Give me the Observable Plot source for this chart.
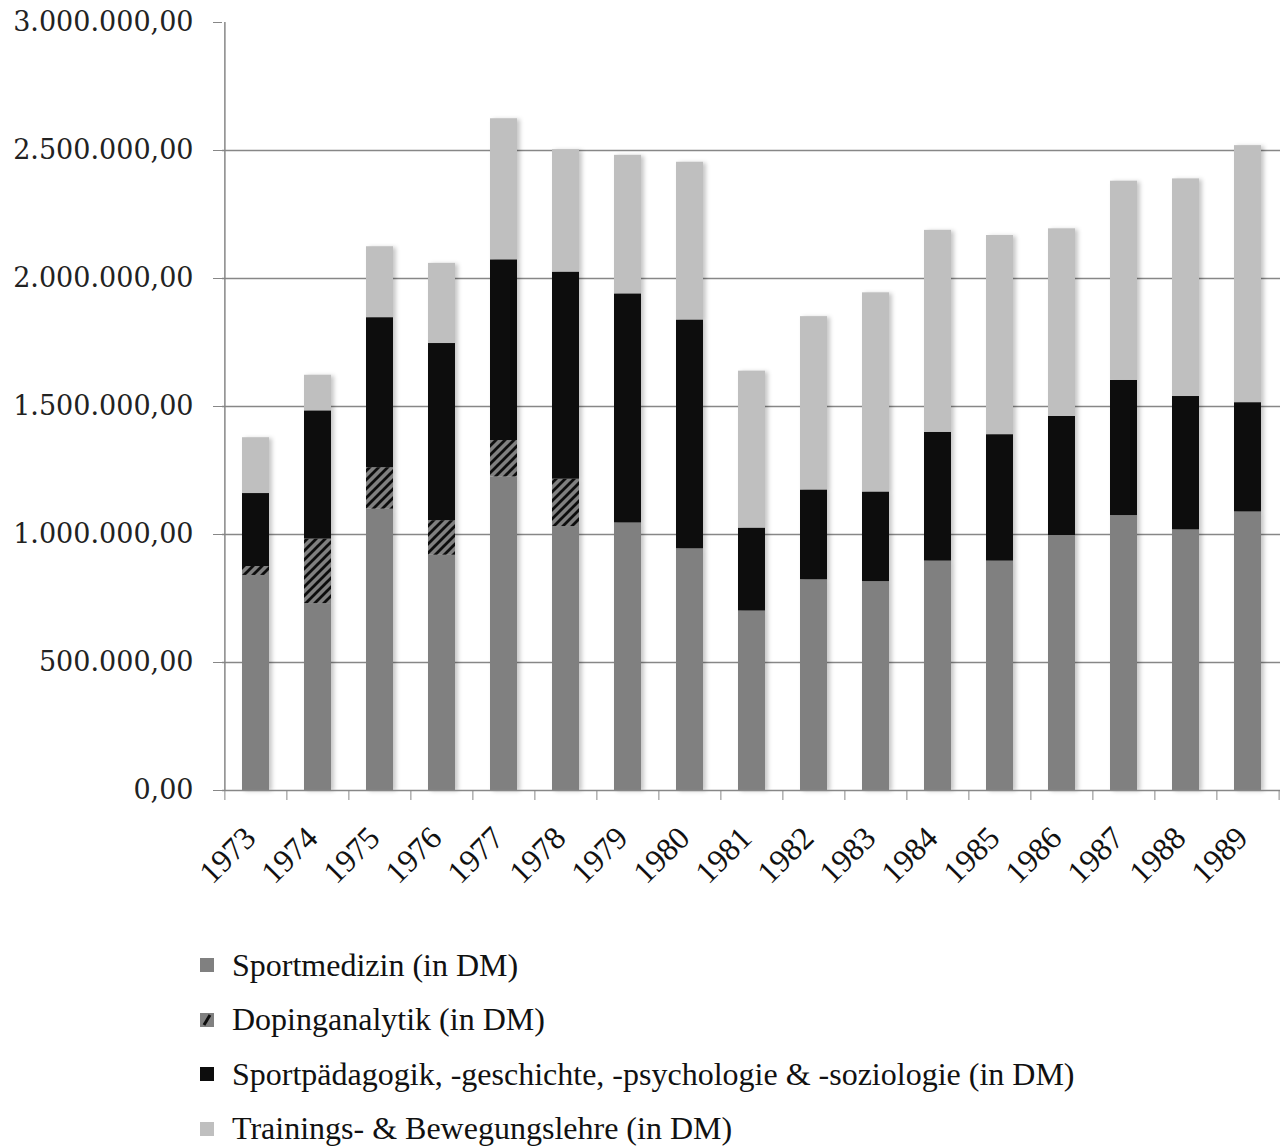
<!DOCTYPE html>
<html>
<head>
<meta charset="utf-8">
<script src="https://cdn.jsdelivr.net/npm/d3@7"></script>
<script src="https://cdn.jsdelivr.net/npm/@observablehq/plot@0.6"></script>
<style>
  body { margin: 0; background: #fff; }
  #chart svg { display: block; }
  #legend { margin-top: 33px; padding-left: 200px; font-family: "Liberation Serif", serif; font-size: 32px; color: #111; }
  .row { height: 54.5px; display: flex; align-items: center; }
  .row svg { margin-right: 18px; flex: none; }
</style>
</head>
<body>
<div id="chart"></div>
<div id="legend"></div>
<script>
const years = [1973,1974,1975,1976,1977,1978,1979,1980,1981,1982,1983,1984,1985,1986,1987,1988,1989];
const seriesNames = [
  "Sportmedizin (in DM)",
  "Dopinganalytik (in DM)",
  "Sportpädagogik, -geschichte, -psychologie & -soziologie (in DM)",
  "Trainings- & Bewegungslehre (in DM)"
];
const sportmedizin    = [840000, 730000, 1099000, 919000, 1225000, 1031000, 1045000, 944000, 701000, 823000, 816000, 896000, 896000, 996000, 1074000, 1018000, 1088000];
const dopinganalytik  = [35000, 252000, 162000, 135000, 142000, 185000, 0, 0, 0, 0, 0, 0, 0, 0, 0, 0, 0];
const sportpaedagogik = [285000, 501000, 586000, 692000, 706000, 809000, 895000, 894000, 324000, 351000, 350000, 503000, 494000, 465000, 528000, 521000, 427000];
const training        = [218000, 139000, 277000, 313000, 551000, 478000, 541000, 616000, 613000, 677000, 778000, 789000, 778000, 733000, 778000, 850000, 1004000];
const yTicks = [0, 500000, 1000000, 1500000, 2000000, 2500000, 3000000];
const gridTicks = [500000, 1000000, 1500000, 2000000, 2500000];

const seriesValues = [sportmedizin, dopinganalytik, sportpaedagogik, training];
const fills = ["#808080", "url(#hatch)", "#0d0d0d", "#bfbfbf"];

const rows = [];
years.forEach((yr, i) => {
  seriesNames.forEach((s, k) => {
    if (seriesValues[k][i] > 0) rows.push({year: yr, series: s, value: seriesValues[k][i]});
  });
});

const fmt = d3.formatLocale({decimal: ",", thousands: ".", grouping: [3], currency: ["", ""]}).format(",.2f");

const W = 1287, ML = 222, MR = 7;
const step = (W - ML - MR) / years.length;
const axisColor = "#878787";

const chart = Plot.plot({
  width: W,
  height: 905,
  marginLeft: ML,
  marginRight: MR,
  marginTop: 22,
  marginBottom: 115,
  style: {background: "#fff"},
  x: {type: "band", domain: years, paddingInner: 0.566, paddingOuter: 0.283, axis: null},
  y: {domain: [0, 3000000], axis: null},
  color: {domain: seriesNames, range: fills, legend: false},
  marks: [
    Plot.gridY(gridTicks, {stroke: axisColor, strokeOpacity: 1, strokeWidth: 1.3}),
    Plot.barY(rows, {x: "year", y: "value", fill: "series"}),
    Plot.ruleY([0], {stroke: axisColor, strokeWidth: 1.5}),
    Plot.ruleX([years[0]], {dx: -step / 2, stroke: axisColor, strokeWidth: 1.5}),
    Plot.axisX(years, {tickSize: 10, tickFormat: () => "", label: null, dx: -step / 2, stroke: axisColor}),
    Plot.axisX([years[years.length - 1]], {tickSize: 10, tickFormat: () => "", label: null, dx: step / 2, stroke: axisColor}),
    Plot.text(years, {x: d => d, text: d => String(d), frameAnchor: "bottom", rotate: -45, dx: -21, dy: 72,
      fontSize: 32, fontFamily: "Liberation Serif", fill: "#111"}),
    Plot.axisY(yTicks, {tickSize: 9, tickPadding: 20, tickFormat: fmt, label: null, stroke: axisColor, fill: "#222",
      fontSize: 27, fontFamily: "DejaVu Serif"})
  ]
});

// hatch pattern definition
const ns = "http://www.w3.org/2000/svg";
const defs = document.createElementNS(ns, "defs");
defs.innerHTML = `<pattern id="hatch" patternUnits="userSpaceOnUse" width="9" height="9">
  <rect width="9" height="9" fill="#808080"/>
  <path d="M-2,2 l4,-4 M0,9 l9,-9 M7,11 l4,-4" stroke="#0d0d0d" stroke-width="2.8"/>
</pattern>`;
chart.insertBefore(defs, chart.firstChild);
const barG = chart.querySelector('g[aria-label="bar"]');
if (barG) barG.style.filter = "drop-shadow(3px 1px 2px rgba(0,0,0,0.22))";
document.getElementById("chart").appendChild(chart);

// legend
const legend = document.getElementById("legend");
seriesNames.forEach((s, k) => {
  const row = document.createElement("div");
  row.className = "row";
  const sw = k === 1
    ? `<svg width="14" height="14"><rect width="14" height="14" fill="#808080"/><path d="M4,12 L10,2" stroke="#0d0d0d" stroke-width="3"/></svg>`
    : `<svg width="14" height="14"><rect width="14" height="14" fill="${fills[k]}"/></svg>`;
  row.innerHTML = sw + `<span>${s}</span>`;
  legend.appendChild(row);
});
</script>
</body>
</html>
